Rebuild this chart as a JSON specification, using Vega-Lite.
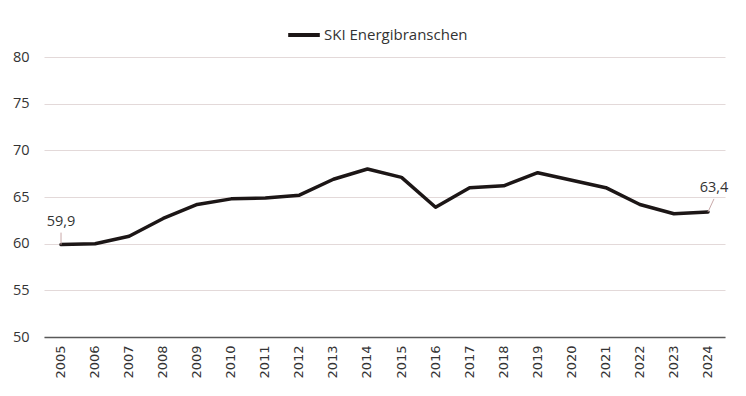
{
  "$schema": "https://vega.github.io/schema/vega-lite/v6.json",
  "width": 681,
  "height": 280,
  "autosize": {"type": "none"},
  "padding": {"left": 44, "top": 57, "right": 21, "bottom": 59},
  "background": "white",
  "config": {
    "font": "Open Sans",
    "view": {"stroke": null},
    "axis": {"labelFont": "Open Sans", "labelColor": "#333333"}
  },
  "data": {
    "values": [
      {"year": "2005", "value": 59.9, "series": "SKI Energibranschen", "label": "59,9"},
      {"year": "2006", "value": 60.0, "series": "SKI Energibranschen"},
      {"year": "2007", "value": 60.8, "series": "SKI Energibranschen"},
      {"year": "2008", "value": 62.7, "series": "SKI Energibranschen"},
      {"year": "2009", "value": 64.2, "series": "SKI Energibranschen"},
      {"year": "2010", "value": 64.8, "series": "SKI Energibranschen"},
      {"year": "2011", "value": 64.9, "series": "SKI Energibranschen"},
      {"year": "2012", "value": 65.2, "series": "SKI Energibranschen"},
      {"year": "2013", "value": 66.9, "series": "SKI Energibranschen"},
      {"year": "2014", "value": 68.0, "series": "SKI Energibranschen"},
      {"year": "2015", "value": 67.1, "series": "SKI Energibranschen"},
      {"year": "2016", "value": 63.9, "series": "SKI Energibranschen"},
      {"year": "2017", "value": 66.0, "series": "SKI Energibranschen"},
      {"year": "2018", "value": 66.2, "series": "SKI Energibranschen"},
      {"year": "2019", "value": 67.6, "series": "SKI Energibranschen"},
      {"year": "2020", "value": 66.8, "series": "SKI Energibranschen"},
      {"year": "2021", "value": 66.0, "series": "SKI Energibranschen"},
      {"year": "2022", "value": 64.2, "series": "SKI Energibranschen"},
      {"year": "2023", "value": 63.2, "series": "SKI Energibranschen"},
      {"year": "2024", "value": 63.4, "series": "SKI Energibranschen", "label": "63,4"}
    ]
  },
  "encoding": {
    "x": {
      "field": "year", "type": "ordinal",
      "scale": {"type": "band", "paddingInner": 0, "paddingOuter": 0},
      "axis": {
        "title": null, "labelAngle": -90, "labelFontSize": 13, "labelFont": "DejaVu Sans", "labelPadding": 8,
        "ticks": false, "domainColor": "#595959", "domainWidth": 1.5, "grid": false,
        "labelBaseline": "middle", "labelAlign": "right"
      }
    },
    "y": {
      "field": "value", "type": "quantitative",
      "scale": {"domain": [50, 80], "nice": false, "zero": false},
      "axis": {
        "title": null, "values": [50, 55, 60, 65, 70, 75, 80], "labelFontSize": 14.5,
        "ticks": false, "domain": false, "gridColor": "#e3d9d9", "gridWidth": 1,
        "labelPadding": 15
      }
    }
  },
  "layer": [
    {
      "mark": {"type": "line", "strokeWidth": 3.5, "strokeCap": "round", "strokeJoin": "round"},
      "encoding": {
        "color": {
          "field": "series", "type": "nominal",
          "scale": {"range": ["#1c1616"]},
          "legend": {
            "title": null, "orient": "none", "legendX": 242, "legendY": -40,
            "symbolType": "stroke", "symbolStrokeWidth": 4, "symbolSize": 1000,
            "labelFontSize": 15, "labelColor": "#333333", "labelOffset": 2
          }
        }
      }
    },
    {
      "transform": [{"filter": "datum.year == '2005'"}],
      "mark": {"type": "rule", "color": "#c9a9a9", "strokeWidth": 1, "y2Offset": -12},
      "encoding": {"y2": {"field": "value"}}
    },
    {
      "transform": [{"filter": "datum.year == '2024'"}],
      "mark": {"type": "rule", "color": "#c9a9a9", "strokeWidth": 1, "x2Offset": 6, "y2Offset": -13},
      "encoding": {"x2": {"field": "year"}, "y2": {"field": "value"}}
    },
    {
      "transform": [{"filter": "datum.year == '2005'"}],
      "mark": {"type": "text", "fontSize": 14.5, "color": "#333333", "dy": -23},
      "encoding": {"text": {"field": "label"}}
    },
    {
      "transform": [{"filter": "datum.year == '2024'"}],
      "mark": {"type": "text", "fontSize": 14.5, "color": "#333333", "dy": -24, "dx": 6},
      "encoding": {"text": {"field": "label"}}
    }
  ]
}
